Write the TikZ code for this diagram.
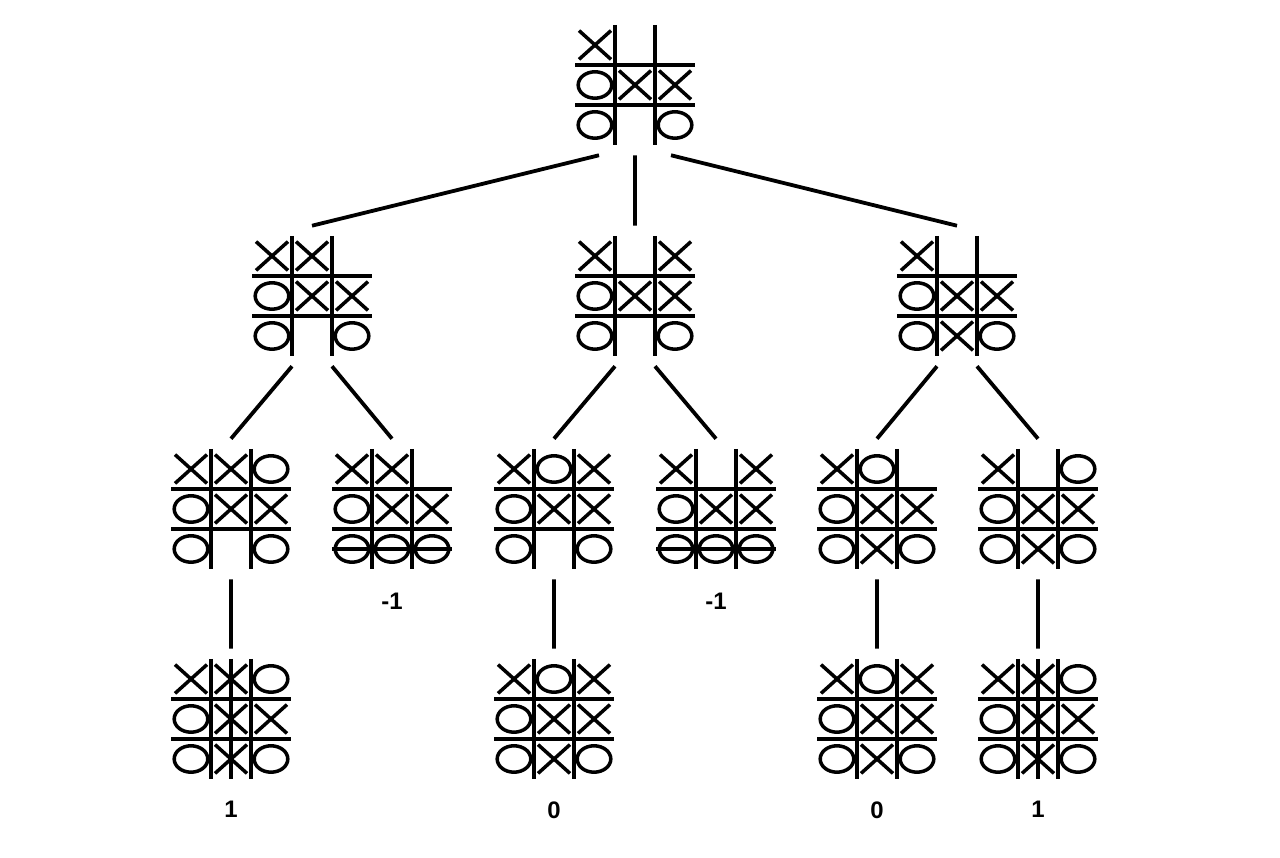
\documentclass[tikz,border=0pt]{standalone}
\usepackage{fontspec}
\setmainfont{Liberation Sans}
\usetikzlibrary{positioning}

\newcommand{\tttboard}[3]{%
  \node [boardnode] at (#2) (#1) {};
  \begin{scope}[shift={(#2)}]
    \draw [gridline]
      (-1.5,0.5) -- (1.5,0.5) (-1.5,-0.5) -- (1.5,-0.5)
      (-0.5,1.5) -- (-0.5,-1.5) (0.5,1.5) -- (0.5,-1.5);
    \foreach \c [count=\i from 0] in {#3} {
      \pgfmathtruncatemacro{\col}{mod(\i,3)-1}
      \pgfmathtruncatemacro{\row}{1-int(\i/3)}
      \if x\c
        \draw [piece] (\col-0.4,\row-0.36) -- (\col+0.4,\row+0.36)
                      (\col-0.4,\row+0.36) -- (\col+0.4,\row-0.36);
      \fi
      \if o\c
        \draw [piece] (\col,\row) ellipse [x radius=0.42, y radius=0.33];
      \fi
    }
  \end{scope}
}

\begin{document}
\begin{tikzpicture}[
boardnode/.style={
rectangle,
minimum size=3.5 cm,
inner sep=0 pt,
},
gridline/.style={line width=3.3 pt},
piece/.style={line width=2.5 pt},
edge/.style={line width=2.7 pt},
score/.style={font=\fontsize{17}{20}\selectfont\bfseries, inner sep=0 pt},
]
\useasboundingbox (0,0) rectangle (32,21.45);

% boards
\tttboard{root}{15.875,19.325}{x,n,n,o,x,x,o,n,o}

\tttboard{l2a}{7.8,14.05}{x,x,n,o,x,x,o,n,o}
\tttboard{l2b}{15.875,14.05}{x,n,x,o,x,x,o,n,o}
\tttboard{l2c}{23.925,14.05}{x,n,n,o,x,x,o,x,o}

\tttboard{l3a}{5.775,8.725}{x,x,o,o,x,x,o,n,o}
\tttboard{l3b}{9.8,8.725}{x,x,n,o,x,x,o,o,o}
\tttboard{l3c}{13.85,8.725}{x,o,x,o,x,x,o,n,o}
\tttboard{l3d}{17.9,8.725}{x,n,x,o,x,x,o,o,o}
\tttboard{l3e}{21.925,8.725}{x,o,n,o,x,x,o,x,o}
\tttboard{l3f}{25.95,8.725}{x,n,o,o,x,x,o,x,o}

\tttboard{l4a}{5.775,3.475}{x,x,o,o,x,x,o,x,o}
\tttboard{l4c}{13.85,3.475}{x,o,x,o,x,x,o,x,o}
\tttboard{l4e}{21.925,3.475}{x,o,x,o,x,x,o,x,o}
\tttboard{l4f}{25.95,3.475}{x,x,o,o,x,x,o,x,o}

% winning lines
\draw [gridline]
([shift={(-1.5,-1)}]l3b.center) -- ([shift={(1.5,-1)}]l3b.center)
([shift={(-1.5,-1)}]l3d.center) -- ([shift={(1.5,-1)}]l3d.center)
([shift={(0,1.5)}]l4a.center) -- ([shift={(0,-1.5)}]l4a.center)
([shift={(0,1.5)}]l4f.center) -- ([shift={(0,-1.5)}]l4f.center)
;

% tree edges
\draw [edge]
([xshift=-0.9 cm]root.south) -- (l2a.north)
(root.south) -- (l2b.north)
([xshift=0.9 cm]root.south) -- (l2c.north)
([xshift=-0.5 cm]l2a.south) -- (l3a.north)
([xshift=0.5 cm]l2a.south) -- (l3b.north)
([xshift=-0.5 cm]l2b.south) -- (l3c.north)
([xshift=0.5 cm]l2b.south) -- (l3d.north)
([xshift=-0.5 cm]l2c.south) -- (l3e.north)
([xshift=0.5 cm]l2c.south) -- (l3f.north)
(l3a.south) -- (l4a.north)
(l3c.south) -- (l4c.north)
(l3e.south) -- (l4e.north)
(l3f.south) -- (l4f.north)
;

% values
\node [score, below=0.35 cm of l3b] (v3b) {-1};
\node [score, below=0.35 cm of l3d] (v3d) {-1};
\node [score, below=0.3 cm of l4a] (v4a) {1};
\node [score, below=0.3 cm of l4c] (v4c) {0};
\node [score, below=0.3 cm of l4e] (v4e) {0};
\node [score, below=0.3 cm of l4f] (v4f) {1};

\end{tikzpicture}
\end{document}
